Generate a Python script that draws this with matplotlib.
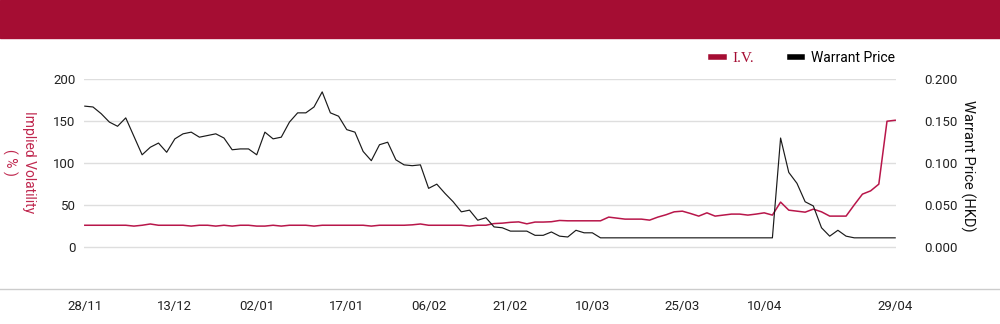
import numpy as np
import matplotlib
matplotlib.use('Agg')
import matplotlib.pyplot as plt
from matplotlib.lines import Line2D
from matplotlib.patches import Rectangle
from matplotlib.ticker import FormatStrFormatter

# data (100 trading days)
harga = [0.168, 0.167, 0.159, 0.149, 0.144, 0.154, 0.132, 0.110, 0.119, 0.124,
         0.113, 0.129, 0.135, 0.137, 0.131, 0.133, 0.135, 0.130, 0.116, 0.117,
         0.117, 0.110, 0.137, 0.129, 0.131, 0.149, 0.160, 0.160, 0.167, 0.185,
         0.160, 0.156, 0.140, 0.137, 0.114, 0.103, 0.122, 0.125, 0.104, 0.098,
         0.097, 0.098, 0.070, 0.075, 0.064, 0.054, 0.042, 0.044, 0.032, 0.035,
         0.024, 0.023, 0.019, 0.019, 0.019, 0.014, 0.014, 0.018, 0.013, 0.012,
         0.020, 0.017, 0.017, 0.011, 0.011, 0.011, 0.011, 0.011, 0.011, 0.011,
         0.011, 0.011, 0.011, 0.011, 0.011, 0.011, 0.011, 0.011, 0.011, 0.011,
         0.011, 0.011, 0.011, 0.011, 0.011, 0.130, 0.089, 0.076, 0.054, 0.049,
         0.023, 0.013, 0.020, 0.013, 0.011, 0.011, 0.011, 0.011, 0.011, 0.011]

iv = [26, 26, 26, 26, 26, 26, 25, 26, 27.5, 26,
      26, 26, 26, 25, 26, 26, 25, 26, 25, 26,
      26, 25, 25, 26, 25, 26, 26, 26, 25, 26,
      26, 26, 26, 26, 26, 25, 26, 26, 26, 26,
      26.5, 27.5, 26, 26, 26, 26, 26, 25, 26, 26,
      28, 28.5, 29.5, 30, 27.7, 29.8, 29.8, 30.2, 31.7, 31.3,
      31.3, 31.3, 31.3, 31.3, 35.7, 34.5, 33.3, 33.3, 33.3, 32.1,
      35.7, 38.5, 42, 42.8, 40, 36.9, 40.8, 36.9, 38.1, 39.3,
      39.3, 38.1, 39.3, 40.8, 38.1, 53.6, 44, 42.8, 41.6, 45.2,
      42, 36.9, 36.9, 36.9, 50.3, 63.1, 67, 75, 150, 151.2]

label_tgl = ['28/11', '13/12', '02/01', '17/01', '06/02',
             '21/02', '10/03', '25/03', '10/04', '29/04']
posisi_tgl = [0, 11, 21, 32, 42, 52, 62, 73, 83, 99]

merah = '#a50d33'
garis_merah = '#b8164a'

fig = plt.figure(figsize=(10, 3.24), dpi=100)
fig.patches.append(Rectangle((0, 1 - 38 / 324), 1, 38 / 324,
                             transform=fig.transFigure, color=merah, zorder=0))
fig.add_artist(Line2D([0, 1], [35 / 324, 35 / 324], transform=fig.transFigure,
                      color='#cccccc', lw=1))

ax = fig.add_axes([0.084, 35 / 324, 0.812, (289 - 79.3) / 324])
ax2 = ax.twinx()

x = np.arange(len(harga))
ax.plot(x, iv, color=garis_merah, lw=1.1, zorder=3)
ax2.plot(x, harga, color='#1a1a1a', lw=0.85, zorder=3)

ax.set_ylim(-50, 200)
ax2.set_ylim(-0.05, 0.2)
ax.set_xlim(-0.1, 99.1)
ax.set_yticks([0, 50, 100, 150, 200])
ax2.set_yticks([0, 0.05, 0.1, 0.15, 0.2])
ax2.yaxis.set_major_formatter(FormatStrFormatter('%.3f'))
ax.grid(axis='y', color='#dedede', lw=1)
ax.set_axisbelow(True)

ax.set_xticks(posisi_tgl)
ax.set_xticklabels(label_tgl, family=['Liberation Sans Narrow', 'Roboto'], fontsize=9.5)
ax.tick_params(axis='x', length=0, pad=8, colors='#222222')
ax.tick_params(axis='y', length=0, pad=6, labelsize=9.5, colors='#222222')
ax2.tick_params(axis='y', length=0, pad=20, labelsize=9.5, colors='#222222')
for lbl in ax.get_yticklabels() + ax2.get_yticklabels():
    lbl.set_family('Roboto')

for a in (ax, ax2):
    for s in a.spines.values():
        s.set_visible(False)

fig.text(0.019, 0.5, 'Implied Volatility\n( % )', rotation=270, ha='center',
         va='center', color='#c0284f', family='Roboto', fontsize=10,
         multialignment='center', linespacing=1.4)
fig.text(0.968, 0.488, 'Warrant Price (HKD)', rotation=270, ha='center',
         va='center', color='#111111', family='Roboto', fontsize=10.5)

pegangan = [Line2D([], [], color=merah, lw=4),
            Line2D([], [], color='#000000', lw=4)]
leg = fig.legend(pegangan, ['I.V.', 'Warrant Price'], loc='center right',
                 bbox_to_anchor=(0.907, 1 - 58 / 324), ncol=2, frameon=False,
                 handlelength=0.9, handletextpad=0.6, columnspacing=2.6,
                 prop={'family': 'Roboto', 'size': 10})
teks = leg.get_texts()
teks[0].set_color(merah)
teks[0].set_family('Liberation Serif')
teks[0].set_fontsize(11)

fig.savefig('out.png', dpi=100)
